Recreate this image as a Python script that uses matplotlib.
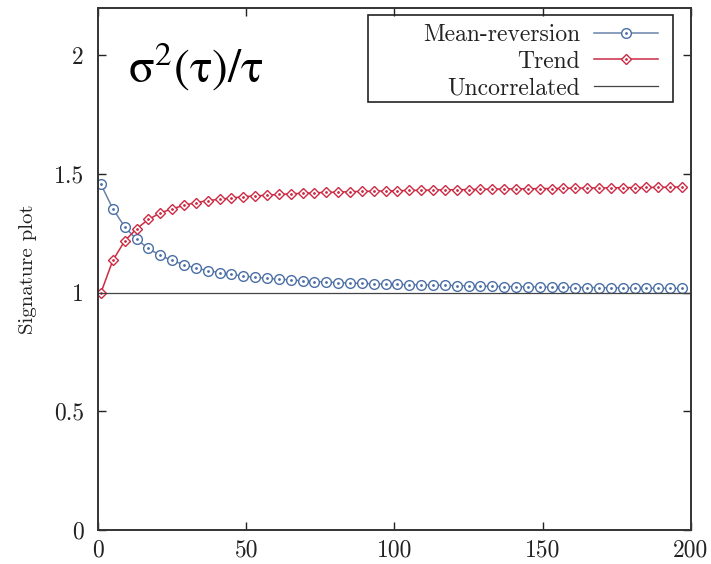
import numpy as np
import matplotlib
matplotlib.use("Agg")
import matplotlib.pyplot as plt
from matplotlib.patches import Rectangle
import warnings

warnings.filterwarnings("ignore")

plt.rcParams['font.family'] = ['cmr10', 'DejaVu Serif']

# lags (one marker every 4 steps)
tau = np.arange(1, 198, 4)

mean_reversion = [
    1.457, 1.354, 1.278, 1.225, 1.187, 1.157, 1.136, 1.118, 1.104, 1.093,
    1.085, 1.077, 1.071, 1.065, 1.061, 1.057, 1.054, 1.050, 1.047, 1.045,
    1.043, 1.041, 1.039, 1.038, 1.036, 1.035, 1.034, 1.033, 1.032, 1.031,
    1.030, 1.029, 1.028, 1.027, 1.026, 1.026, 1.025, 1.024, 1.024, 1.023,
    1.022, 1.022, 1.021, 1.021, 1.020, 1.020, 1.019, 1.019, 1.018, 1.018,
]
trend = [
    1.000, 1.136, 1.218, 1.269, 1.309, 1.336, 1.354, 1.368, 1.380, 1.388,
    1.394, 1.399, 1.405, 1.408, 1.411, 1.414, 1.417, 1.419, 1.421, 1.423,
    1.424, 1.426, 1.427, 1.428, 1.429, 1.430, 1.431, 1.432, 1.433, 1.434,
    1.434, 1.435, 1.436, 1.437, 1.437, 1.438, 1.438, 1.439, 1.439, 1.440,
    1.441, 1.441, 1.442, 1.442, 1.443, 1.443, 1.444, 1.444, 1.445, 1.446,
]
uncorr_x = [0, 200]
uncorr_y = [1, 1]

xticks = [0, 50, 100, 150, 200]
yticks = [0, 0.5, 1, 1.5, 2]
ytick_labels = ['0', '0.5', '1', '1.5', '2']

blue_line = '#6a82ab'
blue_mark = '#4a6fa5'
red = '#cc2a42'

fig = plt.figure(figsize=(7.11, 5.64), dpi=100)
ax = fig.add_axes([0.1378, 0.0603, 0.834, 0.9255])

l1, = ax.plot(tau, mean_reversion, color=blue_line, lw=1.1, marker='o', ms=7,
              mfc='white', mec=blue_mark, mew=1.0, label='Mean-reversion')
d1, = ax.plot(tau, mean_reversion, ls='none', marker='.', ms=2, color=blue_mark)
l2, = ax.plot(tau, trend, color=red, lw=1.1, marker='D', ms=5.5, mfc='white',
              mec=red, mew=1.0, label='Trend')
d2, = ax.plot(tau, trend, ls='none', marker='.', ms=2, color=red)
l3, = ax.plot(uncorr_x, uncorr_y, color='#444444', lw=0.9, label='Uncorrelated')

ax.set_xlim(0, 200)
ax.set_ylim(0, 2.2)
ax.set_xticks(xticks)
ax.set_xticklabels([str(v) for v in xticks])
ax.set_yticks(yticks)
ax.set_yticklabels(ytick_labels)
ax.tick_params(direction='in', length=6, width=1, top=True, right=True,
               labelsize=17, colors='#222222')
ax.tick_params(axis='y', pad=10)
ax.tick_params(axis='x', pad=7)
for s in ax.spines.values():
    s.set_linewidth(1.4)
    s.set_color('#333333')

ax.set_ylabel('Signature plot', fontsize=15, labelpad=12, color='#222222')

# legend frame drawn separately (gnuplot-like wide box)
ax.add_patch(Rectangle((0.455, 0.820), 0.515, 0.167, transform=ax.transAxes,
                       fill=False, lw=1.2, ec='#222222', zorder=5))
leg = ax.legend([(l1, d1), (l2, d2), l3], ['Mean-reversion', 'Trend', 'Uncorrelated'],
                loc='upper right', bbox_to_anchor=(0.944, 0.969), frameon=False,
                markerfirst=False, fontsize=17, borderpad=0, borderaxespad=0,
                handlelength=2.7, handletextpad=0.6, labelspacing=0.18)
for t in leg.get_texts():
    t.set_color('#222222')

ax.text(0.05, 0.858, r'$\mathrm{\sigma^2(\tau)/\tau}$', transform=ax.transAxes,
        math_fontfamily='stix', fontsize=34, va='baseline', ha='left', color='black')

fig.savefig('out.png', dpi=100)
